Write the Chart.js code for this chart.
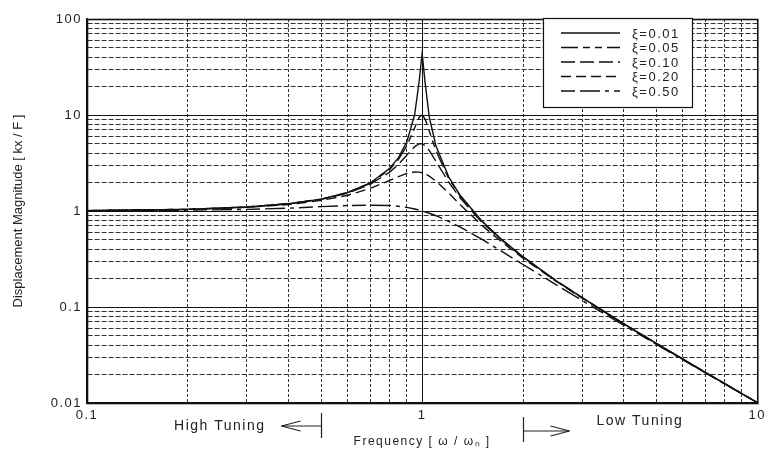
<!DOCTYPE html>
<html>
<head>
<meta charset="utf-8">
<script src="https://cdn.jsdelivr.net/npm/chart.js@4.4.1/dist/chart.umd.min.js"></script>
<style>
  html, body { margin: 0; padding: 0; background: #fff; }
  #wrap { width: 771px; height: 451px; }
</style>
</head>
<body>
<div id="wrap"><canvas id="chart"></canvas></div>
<script>
// frequency ratio w/wn (x) and magnitudes kx/F
const freq = [0.1, 0.2, 0.3, 0.4, 0.5, 0.6, 0.7, 0.8, 0.85, 0.9, 0.95, 0.98, 1, 1.02, 1.05, 1.1, 1.2, 1.3, 1.5, 1.7, 2, 2.5, 3, 4, 5, 7, 10];
const zeta001 = [1.01, 1.04, 1.10, 1.19, 1.33, 1.56, 1.96, 2.78, 3.60, 5.24, 10.1, 22.6, 44, 22.1, 9.56, 4.74, 2.27, 1.45, 0.800, 0.529, 0.333, 0.190, 0.125, 0.0667, 0.0417, 0.0208, 0.0101];
const zeta005 = [1.01, 1.04, 1.10, 1.19, 1.33, 1.56, 1.94, 2.71, 3.45, 4.76, 7.35, 9.46, 10, 9.12, 6.82, 4.22, 2.19, 1.42, 0.794, 0.527, 0.333, 0.190, 0.125, 0.0666, 0.0417, 0.0208, 0.0101];
const zeta010 = [1.01, 1.04, 1.10, 1.19, 1.32, 1.54, 1.89, 2.54, 3.07, 3.82, 4.68, 5.00, 5.00, 4.81, 4.28, 3.29, 2.00, 1.36, 0.778, 0.521, 0.330, 0.190, 0.125, 0.0666, 0.0416, 0.0208, 0.0101];
const zeta020 = [1.01, 1.04, 1.09, 1.17, 1.29, 1.46, 1.72, 2.08, 2.28, 2.46, 2.55, 2.54, 2.50, 2.44, 2.31, 2.05, 1.54, 1.16, 0.721, 0.498, 0.322, 0.187, 0.124, 0.0663, 0.0415, 0.0208, 0.0101];
const zeta050 = [1.00, 1.02, 1.04, 1.07, 1.11, 1.14, 1.15, 1.14, 1.12, 1.09, 1.05, 1.02, 1.00, 0.980, 0.948, 0.893, 0.782, 0.680, 0.512, 0.393, 0.277, 0.172, 0.117, 0.0644, 0.0408, 0.0206, 0.0101];

const seriesLabels = ['ξ=0.01', 'ξ=0.05', 'ξ=0.10', 'ξ=0.20', 'ξ=0.50'];
const seriesValues = [zeta001, zeta005, zeta010, zeta020, zeta050];
const seriesDash = [[], [17, 5, 7, 5, 7, 5], [14, 5], [10, 5], [14, 5, 20, 5, 4, 5]];

const xTicks = [0.1, 0.2, 0.3, 0.4, 0.5, 0.6, 0.7, 0.8, 0.9, 1, 2, 3, 4, 5, 6, 7, 8, 9, 10];
const yTicks = [0.01, 0.02, 0.03, 0.04, 0.05, 0.06, 0.07, 0.08, 0.09,
                0.1, 0.2, 0.3, 0.4, 0.5, 0.6, 0.7, 0.8, 0.9,
                1, 2, 3, 4, 5, 6, 7, 8, 9,
                10, 20, 30, 40, 50, 60, 70, 80, 90, 100];
const xDecades = [0.1, 1, 10];
const yDecades = [0.01, 0.1, 1, 10, 100];

const FONT = '"Liberation Sans", Arial, sans-serif';
const INK = '#222';

let align = (px) => Math.round(px - 0.5) + 0.5;

let line = (ctx, x1, y1, x2, y2) => {
  ctx.beginPath();
  ctx.moveTo(x1, y1);
  ctx.lineTo(x2, y2);
  ctx.stroke();
};

const decor = {
  id: 'decor',
  beforeLayout(chart) { chart.ctx.letterSpacing = '1.5px'; },
  beforeDraw(chart) { chart.ctx.letterSpacing = '1.5px'; },
  beforeDatasetsDraw(chart) {
    // solid decade lines over the dashed minor grid
    const { ctx, chartArea: a, scales: { x, y } } = chart;
    ctx.save();
    ctx.strokeStyle = '#111';
    ctx.lineWidth = 1;
    ctx.setLineDash([]);
    xDecades.forEach(v => { const px = align(x.getPixelForValue(v)); line(ctx, px, a.top, px, a.bottom); });
    yDecades.forEach(v => { const py = align(y.getPixelForValue(v)); line(ctx, a.left, py, a.right, py); });
    ctx.lineWidth = 1.6;
    ctx.strokeRect(align(a.left), align(a.top), a.right - a.left, a.bottom - a.top);
    ctx.restore();
  },
  afterDraw(chart) {
    const { ctx, chartArea: a, scales: { x } } = chart;
    ctx.save();
    ctx.setLineDash([]);

    // legend box
    const bx = 543.5, by = 18.5, bw = 149, bh = 89;
    ctx.fillStyle = '#fff';
    ctx.fillRect(bx, by, bw, bh);
    ctx.strokeStyle = '#111';
    ctx.lineWidth = 1.2;
    ctx.strokeRect(bx, by, bw, bh);
    ctx.font = '13px ' + FONT;
    ctx.textBaseline = 'middle';
    ctx.textAlign = 'left';
    chart.data.datasets.forEach((ds, i) => {
      const ry = 33 + i * 14.5;
      ctx.strokeStyle = ds.borderColor;
      ctx.lineWidth = ds.borderWidth;
      ctx.setLineDash(ds.borderDash);
      line(ctx, 561, ry, 620, ry);
      ctx.setLineDash([]);
      ctx.fillStyle = INK;
      ctx.fillText(ds.label, 632, ry + 1);
    });

    // tuning annotations
    ctx.strokeStyle = '#222';
    ctx.lineWidth = 1.2;
    const xl = align(x.getPixelForValue(0.5));
    const xr = align(x.getPixelForValue(2));
    line(ctx, xl, 413, xl, 438);
    line(ctx, xl, 426, xl - 40, 426);
    line(ctx, xl - 40, 426, xl - 21, 421);
    line(ctx, xl - 40, 426, xl - 21, 431);
    line(ctx, xr, 417, xr, 442);
    line(ctx, xr, 431, xr + 46, 431);
    line(ctx, xr + 46, 431, xr + 27, 426);
    line(ctx, xr + 46, 431, xr + 27, 436);
    ctx.fillStyle = INK;
    ctx.font = '14px ' + FONT;
    ctx.textAlign = 'right';
    ctx.fillText('High Tuning', xl - 56, 426);
    ctx.textAlign = 'left';
    ctx.fillText('Low Tuning', xr + 73, 421);

    // y axis title
    ctx.letterSpacing = '0px';
    ctx.font = '13px ' + FONT;
    ctx.translate(18, (a.top + a.bottom) / 2);
    ctx.rotate(-Math.PI / 2);
    ctx.textAlign = 'center';
    ctx.fillText('Displacement Magnitude [ kx / F ]', 0, 0);
    ctx.restore();
  }
};

const datasets = seriesLabels.map((label, i) => ({
  label: label,
  data: freq.map((f, j) => ({ x: f, y: seriesValues[i][j] })),
  borderColor: '#111',
  borderWidth: 1.4,
  borderDash: seriesDash[i],
  pointRadius: 0,
  tension: 0,
  fill: false,
}));

const ctx = document.getElementById('chart').getContext('2d');

const chart = new Chart(ctx, {
  type: 'line',
  data: { datasets: datasets },
  plugins: [decor],
  options: {
    responsive: true,
    maintainAspectRatio: false,
    animation: false,
    layout: { padding: { left: 0, top: 19, right: 13, bottom: 0 } },
    plugins: {
      legend: { display: false },
      tooltip: { enabled: false },
    },
    scales: {
      x: {
        type: 'logarithmic',
        min: 0.1,
        max: 10,
        afterBuildTicks: (s) => { s.ticks = xTicks.map(v => ({ value: v })); },
        afterFit: (s) => { s.height = 48; },
        grid: { color: '#333', lineWidth: 1, drawTicks: false },
        border: { display: true, color: '#111', width: 1.6, dash: [3, 2] },
        ticks: {
          autoSkip: false,
          maxRotation: 0,
          padding: 5,
          color: INK,
          font: { family: FONT, size: 13 },
          callback: (v) => xDecades.includes(v) ? String(v) : '',
        },
        title: {
          display: true,
          text: 'Frequency [ ω / ωₙ ]',
          color: INK,
          font: { family: FONT, size: 12 },
          padding: { top: 0, bottom: 2 },
        },
      },
      y: {
        type: 'logarithmic',
        min: 0.01,
        max: 100,
        afterBuildTicks: (s) => { s.ticks = yTicks.map(v => ({ value: v })); },
        afterFit: (s) => { s.width = 87; },
        grid: { color: '#333', lineWidth: 1, drawTicks: false },
        border: { display: true, color: '#111', width: 1.6, dash: [5, 2] },
        ticks: {
          autoSkip: false,
          padding: 5,
          color: INK,
          font: { family: FONT, size: 13 },
          callback: (v) => yDecades.includes(v) ? String(v) : '',
        },
      },
    },
  },
});
</script>
</body>
</html>
